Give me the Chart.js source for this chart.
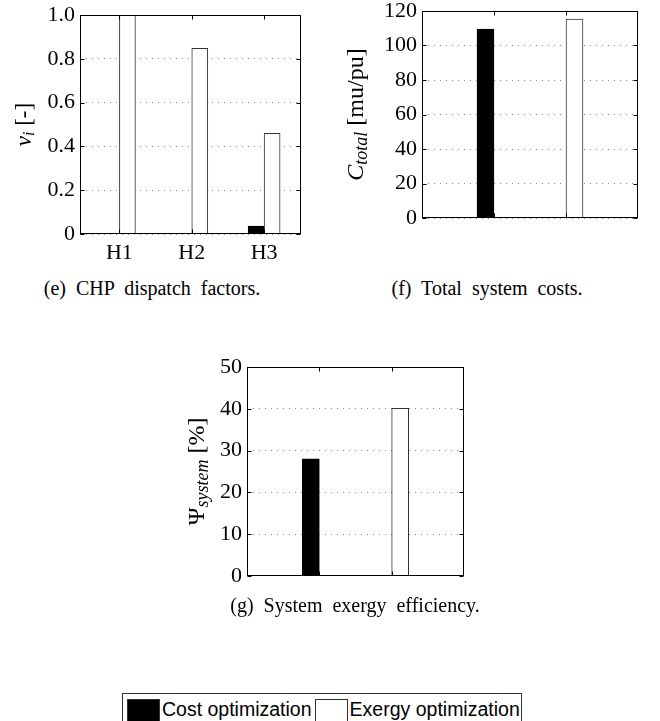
<!DOCTYPE html>
<html>
<head>
<meta charset="utf-8">
<script src="https://cdn.jsdelivr.net/npm/chart.js@4.4.1/dist/chart.umd.min.js"></script>
<style>
  html, body { margin: 0; padding: 0; background: #fff; }
  body { width: 660px; height: 721px; position: relative; overflow: hidden; }
  canvas { position: absolute; }
  .caption {
    position: absolute; width: 300px; text-align: center;
    font-family: "Liberation Serif", "Times New Roman", serif;
    font-size: 20px; word-spacing: 5px; color: #000; line-height: 24px;
  }
  #legend {
    position: absolute; left: 122px; top: 693px; width: 398px; height: 40px;
    border: 1px solid #333; display: flex; align-items: flex-start;
    font-family: "Liberation Sans", Arial, sans-serif; font-size: 19.5px; color: #000;
  }
  #legend .item { display: flex; align-items: flex-start; margin-top: 5px; white-space: nowrap; flex-shrink: 0; line-height: 20px; }
  #legend .swatch { width: 31px; height: 24px; border: 1px solid #333; margin-right: 2px; flex-shrink: 0; }
</style>
</head>
<body>
<canvas id="chartDispatch" width="330" height="284" style="left:0px; top:-10px;"></canvas>
<canvas id="chartCosts" width="330" height="284" style="left:330px; top:-10px;"></canvas>
<canvas id="chartExergy" width="320" height="257" style="left:170px; top:337px;"></canvas>

<div class="caption" style="left:2px; top:276px;">(e) CHP dispatch factors.</div>
<div class="caption" style="left:337px; top:276px;">(f) Total system costs.</div>
<div class="caption" style="left:205px; top:593px;">(g) System exergy efficiency.</div>

<div id="legend"></div>

<script>
// series
const seriesNames = ['Cost optimization', 'Exergy optimization'];
const seriesColors = ['#000000', '#ffffff'];

// (e) CHP dispatch factors
const dispatchCategories = ['H1', 'H2', 'H3'];
const dispatchCost = [0, 0, 0.036];
const dispatchExergy = [1.0, 0.848, 0.46];
const dispatchTicks = [0, 0.2, 0.4, 0.6, 0.8, 1.0];

// (f) total system costs (two groups, no tick labels)
const costsCost = [109.5, 0];
const costsExergy = [0, 115.3];
const costsTicks = [0, 20, 40, 60, 80, 100, 120];

// (g) system exergy efficiency
const exergyCost = [28, 0];
const exergyExergy = [0, 40.1];
const exergyTicks = [0, 10, 20, 30, 40, 50];

const serif = '"Liberation Serif", "Times New Roman", serif';

// draws the closed box, inward tick marks and the rotated y title
const matlabAxes = {
    id: 'matlabAxes',
    afterDatasetsDraw(chart, args, opts) {
        const ctx = chart.ctx;
        const a = chart.chartArea;
        const xs = chart.scales.x, ys = chart.scales.y;
        const L = Math.round(a.left) + 0.5, R = Math.round(a.right) - 0.5;
        const T = Math.round(a.top) + 0.5, B = Math.round(a.bottom) - 0.5;
        ctx.save();
        ctx.strokeStyle = '#000';
        ctx.lineWidth = 1;
        ctx.beginPath();
        ys.ticks.forEach(t => {
            if (t.label === '') return;
            const y = Math.round(ys.getPixelForValue(t.value)) + 0.5;
            ctx.moveTo(L, y); ctx.lineTo(L + 4, y);
            ctx.moveTo(R, y); ctx.lineTo(R - 4, y);
        });
        xs.ticks.forEach(t => {
            const x = Math.round(xs.getPixelForValue(t.value)) + 0.5;
            ctx.moveTo(x, B); ctx.lineTo(x, B - 4);
            ctx.moveTo(x, T); ctx.lineTo(x, T + 4);
        });
        ctx.stroke();
        ctx.strokeRect(L, T, R - L, B - T);
        ctx.restore();
    },
    afterDraw(chart, args, opts) {
        if (!opts.parts) return;
        const ctx = chart.ctx;
        const a = chart.chartArea;
        const fontOf = p => (p.italic ? 'italic ' : '') + (p.sub ? opts.subSize : opts.size) + 'px ' + serif;
        let total = 0;
        opts.parts.forEach(p => { ctx.font = fontOf(p); total += ctx.measureText(p.text).width; });
        ctx.save();
        ctx.translate(a.left - opts.offset, (a.top + a.bottom) / 2);
        ctx.rotate(-Math.PI / 2);
        ctx.fillStyle = '#000';
        ctx.textBaseline = 'middle';
        let x = -total / 2;
        opts.parts.forEach(p => {
            ctx.font = fontOf(p);
            ctx.fillText(p.text, x, p.sub ? 5 : 0);
            x += ctx.measureText(p.text).width;
        });
        ctx.restore();
    }
};

function makeChart(id, geo, positions, values, yMax, yStep, yTicks, xLabels, barWidth, title) {
    const datasets = values.map((vals, s) => ({
        label: seriesNames[s],
        data: vals.map((v, i) => ({ x: positions[i], y: v })),
        backgroundColor: seriesColors[s],
        borderColor: s === 0 ? '#000' : '#333',
        borderWidth: 1,
        barThickness: barWidth,
        grouped: true
    }));
    return new Chart(document.getElementById(id), {
        type: 'bar',
        data: { datasets: datasets },
        options: {
            responsive: false,
            animation: false,
            devicePixelRatio: 1,
            layout: { padding: { top: geo.top, right: geo.right, left: 0, bottom: 0 } },
            plugins: {
                legend: { display: false },
                tooltip: { enabled: false },
                matlabAxes: title
            },
            scales: {
                x: {
                    type: 'linear',
                    offset: false,
                    min: geo.xMin,
                    max: geo.xMax,
                    afterBuildTicks: s => { s.ticks = positions.map(p => ({ value: p })); },
                    afterFit: s => { s.height = geo.xHeight; },
                    grid: { display: false, offset: false, drawTicks: false },
                    border: { display: false },
                    ticks: {
                        display: !!xLabels,
                        padding: 6,
                        color: '#000',
                        font: { family: serif, size: 22 },
                        callback: v => xLabels ? xLabels[positions.indexOf(v)] : ''
                    }
                },
                y: {
                    min: 0,
                    max: yMax,
                    afterFit: s => { s.width = geo.yWidth; },
                    border: { display: false, dash: [1, 5] },
                    grid: { color: '#888', lineWidth: 1, drawTicks: false },
                    ticks: {
                        stepSize: yStep,
                        padding: 5,
                        color: '#000',
                        font: { family: serif, size: 22 },
                        callback: v => {
                            const hit = yTicks.find(t => Math.abs(t - v) < 1e-9);
                            if (hit === undefined) return '';
                            return yMax <= 1 && hit !== 0 ? hit.toFixed(1) : String(hit);
                        }
                    }
                }
            }
        },
        plugins: [matlabAxes]
    });
}

makeChart('chartDispatch',
    { top: 25, right: 29, yWidth: 80, xHeight: 40, xMin: 0.455, xMax: 3.51 },
    [1, 2, 3], [dispatchCost, dispatchExergy], 1, 0.1, dispatchTicks, dispatchCategories, 16,
    { offset: 55, size: 23, subSize: 16, parts: [
        { text: 'ν', italic: true }, { text: 'i', italic: true, sub: true }, { text: ' [-]' }] });

makeChart('chartCosts',
    { top: 21, right: 22, yWidth: 92, xHeight: 56, xMin: 0, xMax: 3 },
    [1, 2], [costsCost, costsExergy], 120, 10, costsTicks, null, 17,
    { offset: 65, size: 24, subSize: 18, parts: [
        { text: 'C', italic: true }, { text: 'total', italic: true, sub: true }, { text: ' [mu/pu]' }] });

makeChart('chartExergy',
    { top: 30, right: 26, yWidth: 77, xHeight: 10, xMin: 0, xMax: 3 },
    [1, 2], [exergyCost, exergyExergy], 50, 10, exergyTicks, null, 17,
    { offset: 49, size: 24, subSize: 18, parts: [
        { text: 'Ψ' }, { text: 'system', italic: true, sub: true }, { text: ' [%]' }] });

// legend built from the series
const legend = document.getElementById('legend');
seriesNames.forEach((name, i) => {
    const item = document.createElement('div');
    item.className = 'item';
    item.style.marginLeft = i === 0 ? '4px' : '3px';
    item.innerHTML = `<span class="swatch" style="background:${seriesColors[i]}"></span><span>${name}</span>`;
    legend.appendChild(item);
});
</script>
</body>
</html>
